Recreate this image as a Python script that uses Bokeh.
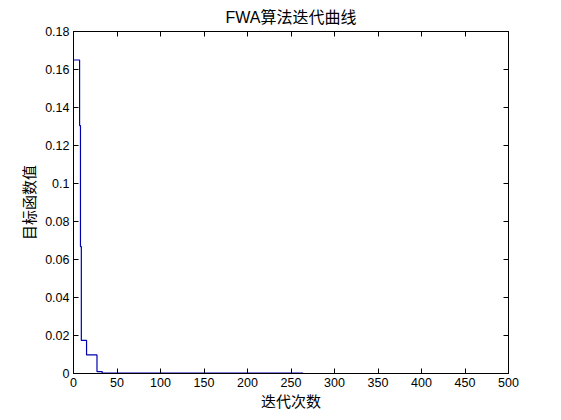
from bokeh.plotting import figure
from bokeh.models import Range1d, FixedTicker, LinearAxis
from bokeh.embed import file_html
from bokeh.resources import INLINE

# Step change points of the iteration curve (iteration, objective value)
iters = [0, 7, 8, 9, 15, 27, 33, 264]
values = [0.165, 0.1305, 0.0668, 0.0174, 0.0098, 0.001, 0.0002, 0.0002]

xticks = [0, 50, 100, 150, 200, 250, 300, 350, 400, 450, 500]
yticks = [0, 0.02, 0.04, 0.06, 0.08, 0.1, 0.12, 0.14, 0.16, 0.18]
yticklabels = ["0", "0.02", "0.04", "0.06", "0.08", "0.1", "0.12", "0.14", "0.16", "0.18"]

title_text = "FWA算法迭代曲线"
xlabel = "迭代次数"
ylabel = "目标函数值"

FONT = "Liberation Sans, Noto Sans CJK SC"

p = figure(output_backend="svg", toolbar_location=None,
           frame_width=435, frame_height=342,
           min_border_left=73, min_border_right=45,
           min_border_top=31, min_border_bottom=38,
           x_range=Range1d(0, 500), y_range=Range1d(0, 0.18),
           title=title_text)
p.background_fill_color = "white"
p.border_fill_color = "white"
p.outline_line_color = "black"
p.outline_line_width = 1
p.grid.visible = False

p.title.align = "center"
p.title.text_font = FONT
p.title.text_font_style = "normal"
p.title.text_font_size = "16px"
p.title.text_color = "black"
p.title.standoff = 12

p.step(iters, values, mode="after", line_color="#0000B0", line_width=1.2)

def style_axis(ax, labels=True):
    ax.major_tick_in = 5
    ax.major_tick_out = 0
    ax.minor_tick_in = 0
    ax.minor_tick_out = 0
    ax.axis_line_color = "black"
    ax.major_tick_line_color = "black"
    ax.major_label_text_font = FONT
    ax.major_label_text_font_size = "12.5px"
    ax.major_label_text_color = "black"
    ax.axis_label_text_font = FONT
    ax.axis_label_text_font_size = "15px"
    ax.axis_label_text_font_style = "normal"
    ax.axis_label_text_color = "black"
    if not labels:
        ax.major_label_text_font_size = "0px"
        ax.major_label_text_alpha = 0

xa = p.xaxis[0]
ya = p.yaxis[0]
xa.ticker = FixedTicker(ticks=xticks)
ya.ticker = FixedTicker(ticks=yticks)
ya.major_label_overrides = {t: l for t, l in zip(yticks, yticklabels)}
xa.axis_label = xlabel
ya.axis_label = ylabel
style_axis(xa)
style_axis(ya)
xa.major_label_standoff = 4
xa.axis_label_standoff = 3
ya.major_label_standoff = 4
ya.axis_label_standoff = 4

top = LinearAxis(ticker=FixedTicker(ticks=xticks))
right = LinearAxis(ticker=FixedTicker(ticks=yticks))
style_axis(top, labels=False)
style_axis(right, labels=False)
p.add_layout(top, "above")
p.add_layout(right, "right")

open("out.html", "w").write(file_html(p, INLINE))
